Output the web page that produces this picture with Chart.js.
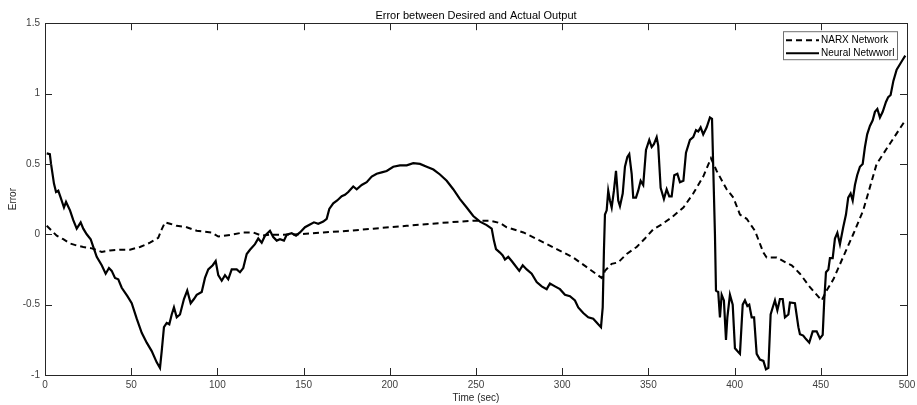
<!DOCTYPE html>
<html>
<head>
<meta charset="utf-8">
<script src="https://cdn.jsdelivr.net/npm/chart.js@4"></script>
<style>
  body { margin: 0; background: #fff; }
  canvas { display: block; }
</style>
</head>
<body>
<canvas id="errChart" width="917" height="405"></canvas>
<script>
// values
const narxTime = [1, 3.9, 6.8, 10.6, 14.5, 18.4, 22.2, 27.1, 32.9, 37.7, 43.5, 49.3, 55.1, 60.9, 65.7, 67.7, 69.6, 72.5, 76.4, 82.2, 88, 96.7, 100.5, 107.3, 115, 120.8, 125.7, 130.5, 138.2, 147.9, 161.4, 176.5, 190.4, 209.8, 229.1, 248.4, 258.1, 263.9, 267.8, 277.5, 287.1, 296.8, 306.4, 316.1, 322.9, 324.8, 328.7, 332.5, 337.4, 343.2, 348, 352.8, 357.7, 363.5, 370.3, 376, 381.8, 386.3, 389.6, 395.4, 399.3, 403.1, 407, 411.8, 416.7, 418.6, 424.4, 431.2, 433.1, 437.9, 443.7, 450.5, 453.4, 457.3, 463, 468.8, 474.6, 482.4, 499];
const narxError = [0.06, 0.025, -0.01, -0.035, -0.065, -0.08, -0.09, -0.10, -0.125, -0.115, -0.11, -0.11, -0.09, -0.06, -0.025, 0.035, 0.085, 0.075, 0.06, 0.05, 0.025, 0.013, -0.016, -0.005, 0.013, 0.013, -0.01, -0.003, -0.003, 0.0, 0.013, 0.025, 0.04, 0.06, 0.08, 0.097, 0.097, 0.08, 0.05, 0.013, -0.045, -0.105, -0.165, -0.25, -0.31, -0.26, -0.21, -0.20, -0.14, -0.09, -0.03, 0.035, 0.07, 0.12, 0.19, 0.29, 0.41, 0.54, 0.45, 0.32, 0.26, 0.14, 0.11, 0.025, -0.13, -0.165, -0.165, -0.21, -0.22, -0.28, -0.375, -0.47, -0.40, -0.32, -0.16, 0.0, 0.17, 0.5, 0.81];

const nnTime = [1, 2.8, 3.5, 5.2, 6.4, 7.7, 9.1, 11, 12.2, 14.5, 16.4, 18.4, 20.7, 22.2, 24.2, 26.5, 28, 30, 32.9, 35.2, 37.1, 38.7, 40.6, 42.5, 44.5, 47.8, 50.3, 53.2, 56.1, 59, 61.9, 64.8, 66.7, 67.7, 69, 70.6, 72.1, 73.5, 74.8, 76.4, 78.3, 80.6, 82.5, 84.5, 86.4, 88, 90.9, 92.8, 94.7, 97.3, 99, 100.5, 102.5, 104.4, 106.3, 108.3, 111.2, 113.1, 115, 117, 118.9, 121.8, 123.7, 125.7, 127.6, 130.5, 132.4, 134.4, 136.3, 138.6, 140.2, 143.1, 145.6, 147.9, 150.8, 153.7, 156, 158.5, 161.4, 163.4, 164.9, 167.2, 169.5, 172.1, 174, 175.9, 178.8, 180.8, 183.7, 186.6, 189.5, 192.4, 195.3, 198.2, 202, 205.9, 209.8, 213.6, 217.5, 221.4, 225.3, 229.1, 233, 236.8, 240.7, 244.6, 248.4, 252.3, 256.2, 259.1, 260.4, 261.6, 263.9, 265.5, 266.8, 268.7, 270.7, 272.6, 275.1, 277.1, 279.4, 282.3, 285.2, 288.1, 291, 292.9, 295.8, 298.7, 301.6, 304.5, 307.4, 309.3, 312.2, 315.1, 318, 320.9, 322.5, 323.5, 324.2, 324.8, 325.8, 326.7, 327.7, 328.7, 330, 331.2, 332.5, 333.5, 335.1, 336.4, 337.8, 338.9, 340.3, 341.2, 342.8, 344.1, 345.5, 347, 348.6, 350.5, 351.9, 353.2, 354.8, 355.7, 357.1, 359, 360.6, 362.1, 363.5, 365, 366.8, 368.3, 370.3, 371.8, 374.1, 376, 377.6, 378.9, 380.3, 381.8, 383.8, 385.7, 386.9, 387.6, 388.6, 389.2, 390.5, 391.5, 392.5, 393.8, 395, 395.8, 397.3, 398.9, 400.2, 401.6, 403.1, 404.7, 406, 407.4, 408.5, 409.9, 411.3, 412.8, 414.7, 416.7, 418.2, 419.6, 420.9, 422.1, 423.4, 424.8, 426.3, 427.9, 429.2, 431.2, 432.1, 435, 437, 437.9, 439.8, 441.4, 443.3, 445.3, 447.6, 449.5, 451.1, 452, 453, 454.4, 455.3, 456.9, 458.2, 459.6, 461.1, 463, 464.6, 465.9, 467.3, 468.5, 469.8, 471.1, 472.7, 474.3, 475.6, 476.9, 478.5, 480.1, 481.4, 482.8, 484.3, 485.9, 487.8, 489.1, 490.5, 492.1, 494, 496, 497.5, 499];
const nnError = [0.575, 0.57, 0.50, 0.36, 0.30, 0.31, 0.26, 0.19, 0.23, 0.17, 0.10, 0.04, 0.085, 0.04, 0.0, -0.035, -0.09, -0.16, -0.22, -0.28, -0.24, -0.26, -0.31, -0.32, -0.38, -0.44, -0.49, -0.60, -0.70, -0.77, -0.83, -0.91, -0.95, -0.83, -0.66, -0.63, -0.64, -0.57, -0.52, -0.59, -0.57, -0.46, -0.40, -0.49, -0.46, -0.43, -0.41, -0.31, -0.25, -0.22, -0.19, -0.29, -0.33, -0.29, -0.32, -0.25, -0.25, -0.27, -0.24, -0.14, -0.11, -0.07, -0.03, -0.06, -0.01, 0.025, -0.02, -0.045, -0.035, -0.045, -0.003, 0.007, -0.01, 0.013, 0.05, 0.07, 0.085, 0.075, 0.09, 0.11, 0.18, 0.22, 0.24, 0.27, 0.28, 0.30, 0.34, 0.32, 0.35, 0.37, 0.41, 0.43, 0.44, 0.45, 0.48, 0.49, 0.49, 0.505, 0.50, 0.48, 0.46, 0.425, 0.38, 0.32, 0.25, 0.19, 0.13, 0.09, 0.065, 0.04, -0.045, -0.105, -0.13, -0.15, -0.18, -0.16, -0.19, -0.22, -0.26, -0.22, -0.25, -0.28, -0.34, -0.37, -0.39, -0.35, -0.37, -0.39, -0.43, -0.44, -0.47, -0.52, -0.56, -0.59, -0.60, -0.64, -0.66, -0.52, -0.12, 0.14, 0.17, 0.31, 0.24, 0.19, 0.31, 0.45, 0.24, 0.20, 0.29, 0.48, 0.55, 0.57, 0.43, 0.26, 0.26, 0.31, 0.38, 0.35, 0.60, 0.67, 0.62, 0.64, 0.69, 0.63, 0.33, 0.25, 0.32, 0.27, 0.27, 0.42, 0.43, 0.37, 0.38, 0.58, 0.67, 0.69, 0.74, 0.73, 0.76, 0.71, 0.76, 0.83, 0.82, 0.48, 0.0, -0.40, -0.41, -0.59, -0.43, -0.47, -0.75, -0.59, -0.43, -0.50, -0.81, -0.83, -0.85, -0.50, -0.47, -0.51, -0.50, -0.59, -0.59, -0.85, -0.89, -0.90, -0.96, -0.95, -0.57, -0.52, -0.47, -0.54, -0.46, -0.46, -0.59, -0.57, -0.485, -0.49, -0.66, -0.71, -0.72, -0.745, -0.77, -0.69, -0.69, -0.74, -0.715, -0.47, -0.27, -0.25, -0.17, -0.17, -0.03, 0.01, -0.07, 0.05, 0.14, 0.26, 0.29, 0.24, 0.35, 0.42, 0.48, 0.50, 0.62, 0.71, 0.77, 0.81, 0.87, 0.89, 0.83, 0.87, 0.94, 0.975, 0.99, 1.09, 1.17, 1.21, 1.24, 1.27];

const seriesNames = ['NARX Network', 'Neural Netwworl'];

function toPoints(xs, ys) {
  return xs.map((x, i) => ({ x: x, y: ys[i] }));
}

// box + inward ticks on all four sides, like matlab axes
const axesBox = {
  id: 'axesBox',
  afterDatasetsDraw(chart) {
    const { ctx, chartArea: a, scales } = chart;
    const tl = 7;
    ctx.save();
    ctx.strokeStyle = '#262626';
    ctx.lineWidth = 1;
    ctx.beginPath();
    scales.x.ticks.forEach(t => {
      const px = Math.round(scales.x.getPixelForValue(t.value)) + 0.5;
      ctx.moveTo(px, a.bottom); ctx.lineTo(px, a.bottom - tl);
      ctx.moveTo(px, a.top); ctx.lineTo(px, a.top + tl);
    });
    scales.y.ticks.forEach(t => {
      const py = Math.round(scales.y.getPixelForValue(t.value)) + 0.5;
      ctx.moveTo(a.left, py); ctx.lineTo(a.left + tl, py);
      ctx.moveTo(a.right, py); ctx.lineTo(a.right - tl, py);
    });
    ctx.stroke();
    ctx.strokeRect(Math.round(a.left) + 0.5, Math.round(a.top) + 0.5,
      Math.round(a.right - a.left), Math.round(a.bottom - a.top));
    ctx.restore();
  }
};

// legend box in the upper right corner of the axes
const cornerLegend = {
  id: 'cornerLegend',
  afterDraw(chart) {
    const { ctx, chartArea: a } = chart;
    const x0 = a.right - 124, y0 = a.top + 8, w = 114, h = 28;
    ctx.save();
    ctx.fillStyle = '#fff';
    ctx.fillRect(x0, y0, w, h);
    ctx.strokeStyle = '#707070';
    ctx.lineWidth = 1;
    ctx.strokeRect(x0 + 0.5, y0 + 0.5, w, h);
    chart.data.datasets.forEach((ds, i) => {
      const y = y0 + 9 + i * 13;
      ctx.strokeStyle = '#000';
      ctx.lineWidth = 2;
      ctx.setLineDash(ds.borderDash || []);
      ctx.beginPath();
      ctx.moveTo(x0 + 3, y);
      ctx.lineTo(x0 + 36, y);
      ctx.stroke();
      ctx.setLineDash([]);
      ctx.fillStyle = '#000';
      ctx.font = '10px "Liberation Sans", Arial, sans-serif';
      ctx.textBaseline = 'middle';
      ctx.fillText(ds.label, x0 + 38, y);
    });
    ctx.restore();
  }
};

const ctx = document.getElementById('errChart').getContext('2d');
new Chart(ctx, {
  type: 'line',
  data: {
    datasets: [
      {
        label: seriesNames[0],
        data: toPoints(narxTime, narxError),
        borderColor: '#000',
        borderWidth: 2,
        borderDash: [6, 4],
        pointRadius: 0,
        tension: 0,
        fill: false
      },
      {
        label: seriesNames[1],
        data: toPoints(nnTime, nnError),
        borderColor: '#000',
        borderWidth: 2.2,
        pointRadius: 0,
        tension: 0,
        fill: false
      }
    ]
  },
  options: {
    responsive: false,
    animation: false,
    layout: { padding: { top: 0, right: 0, left: 0, bottom: 0 } },
    scales: {
      x: {
        type: 'linear',
        min: 0,
        max: 500,
        grid: { display: false, drawTicks: false },
        border: { display: false },
        ticks: {
          stepSize: 50,
          padding: 4,
          maxRotation: 0,
          color: '#404040',
          font: { family: '"Liberation Sans", Arial, sans-serif', size: 10 }
        },
        title: {
          display: true,
          text: 'Time (sec)',
          color: '#262626',
          padding: { top: 0, bottom: 1 },
          font: { family: '"Liberation Sans", Arial, sans-serif', size: 10 }
        },
        afterFit(scale) {
          scale.height = 30;
          scale.paddingRight = 10;
        }
      },
      y: {
        min: -1,
        max: 1.5,
        grid: { display: false, drawTicks: false },
        border: { display: false },
        ticks: {
          stepSize: 0.5,
          padding: 5,
          color: '#404040',
          font: { family: '"Liberation Sans", Arial, sans-serif', size: 10 },
          callback: v => String(v)
        },
        title: {
          display: true,
          text: 'Error',
          color: '#262626',
          padding: { top: 7, bottom: 0 },
          font: { family: '"Liberation Sans", Arial, sans-serif', size: 10 }
        },
        afterFit(scale) { scale.width = 45; }
      }
    },
    plugins: {
      legend: { display: false },
      tooltip: { enabled: false },
      title: {
        display: true,
        text: 'Error between Desired and Actual Output',
        color: '#000',
        fullSize: false,
        padding: { top: 9, bottom: 1 },
        font: { family: '"Liberation Sans", Arial, sans-serif', size: 11, weight: 'normal' }
      }
    }
  },
  plugins: [axesBox, cornerLegend]
});
</script>
</body>
</html>
